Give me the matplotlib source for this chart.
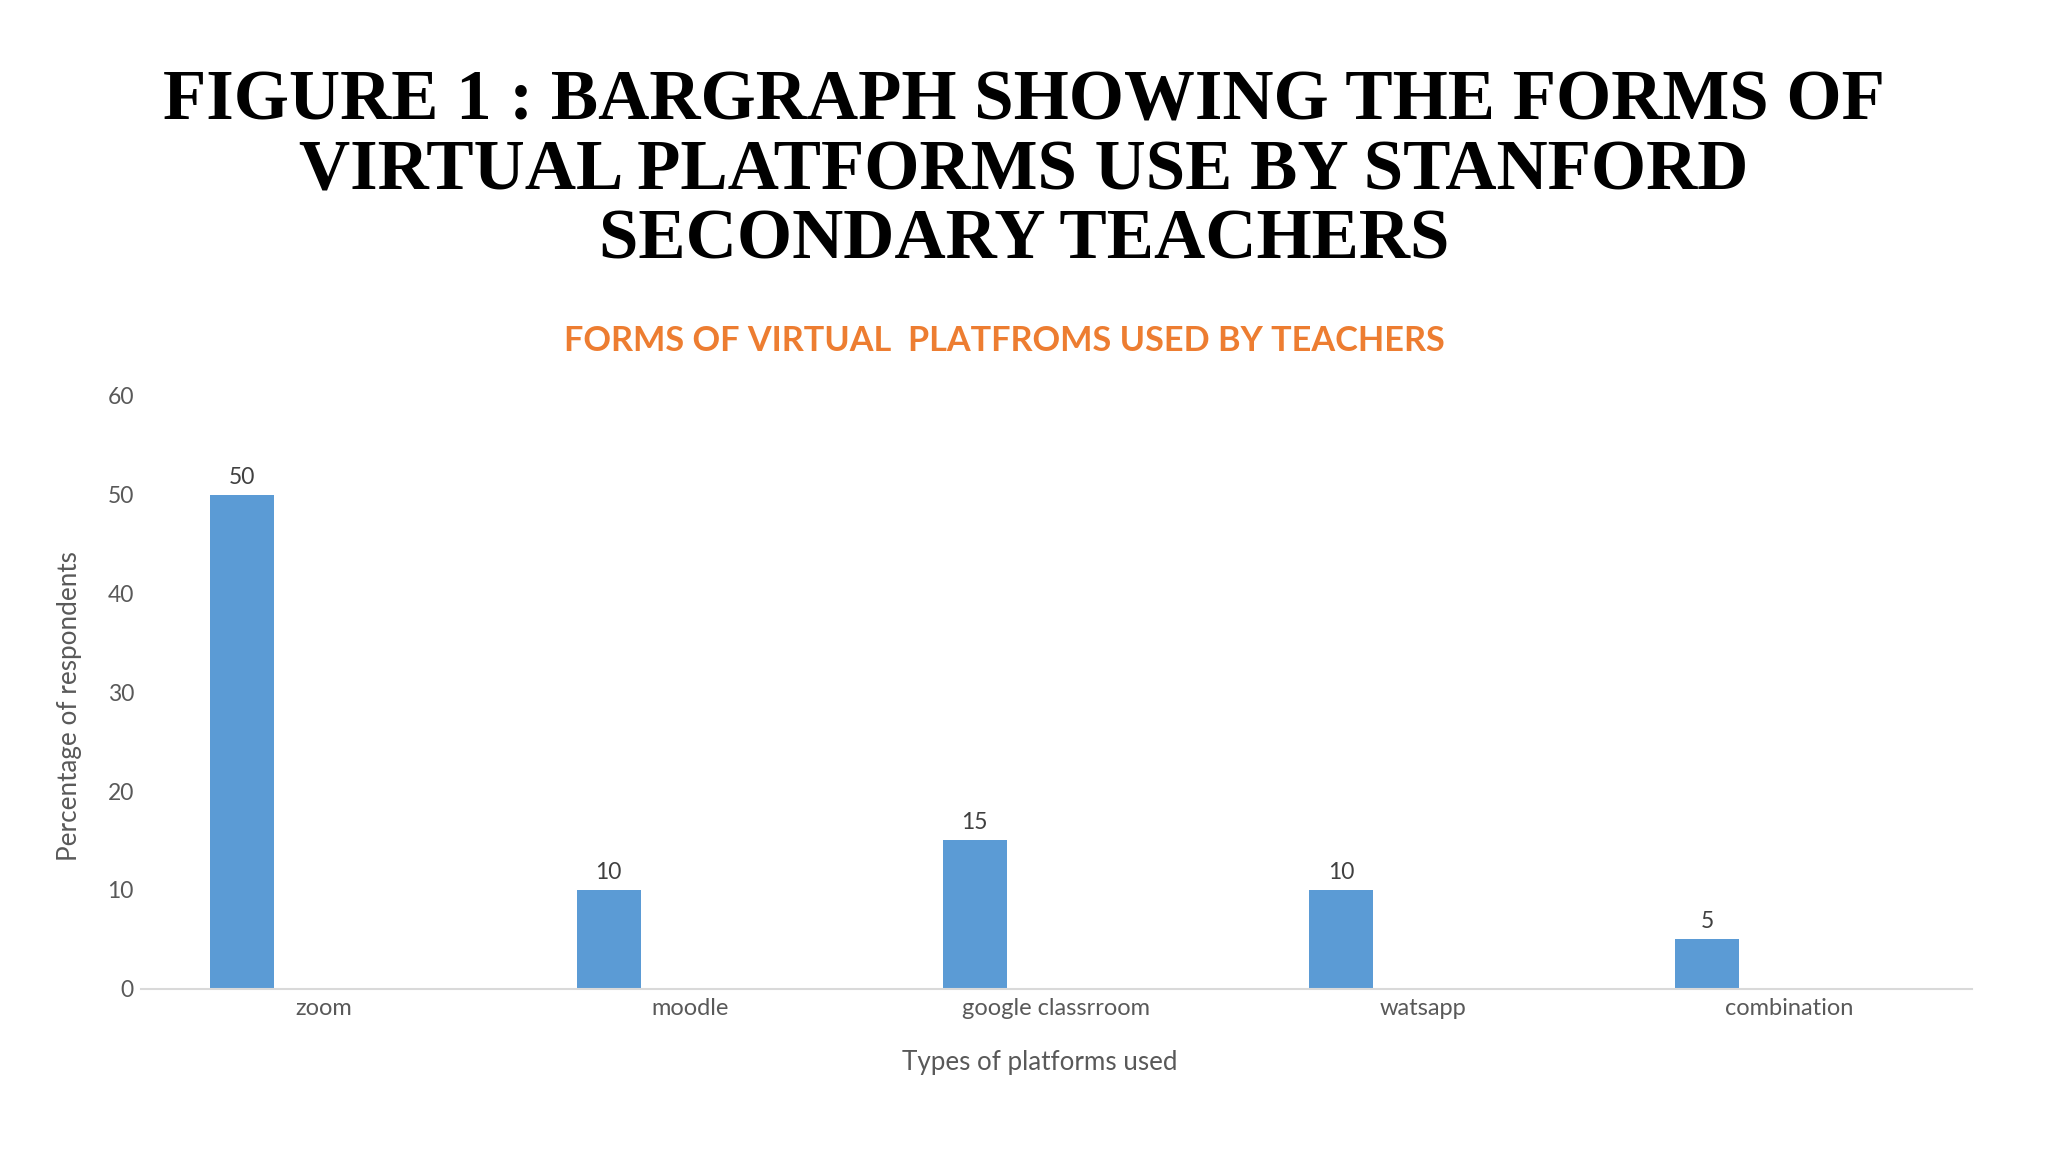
import matplotlib.pyplot as plt
import numpy as np

# Datos
platforms = ['zoom', 'moodle', 'google classrroom', 'watsapp', 'combination']
percent = [50, 10, 15, 10, 5]
y_ticks = [0, 10, 20, 30, 40, 50, 60]

title = ('FIGURE 1 : BARGRAPH SHOWING THE FORMS OF\n'
         'VIRTUAL PLATFORMS USE BY STANFORD\n'
         'SECONDARY TEACHERS')
subtitle = 'FORMS OF VIRTUAL  PLATFROMS USED BY TEACHERS'

grey = '#595959'

fig = plt.figure(figsize=(20.48, 11.52), dpi=100)
ax = fig.add_axes([0.0688, 0.1418, 0.8941, 0.5146])

x = np.arange(len(platforms))
bars = ax.bar(x - 0.223, percent, width=0.175, color='#5B9BD5')

# Etiquetas de datos
for b, v in zip(bars, percent):
    ax.annotate(str(v), (b.get_x() + b.get_width() / 2, v), xytext=(0, 5),
                textcoords='offset points', ha='center', va='bottom',
                fontsize=16.5, color='#404040', family='Lato')

ax.set_xlim(-0.5, len(platforms) - 0.5)
ax.set_ylim(0, 60)
ax.set_yticks(y_ticks)
ax.set_xticks(x)
ax.set_xticklabels(platforms)

for s in ['top', 'right', 'left']:
    ax.spines[s].set_visible(False)
ax.spines['bottom'].set_color('#D9D9D9')
ax.spines['bottom'].set_linewidth(1.5)
ax.tick_params(axis='x', length=0, labelsize=17, labelcolor=grey, pad=7)
ax.tick_params(axis='y', length=0, labelsize=16.5, labelcolor=grey, pad=5)
for lab in ax.get_xticklabels() + ax.get_yticklabels():
    lab.set_family('Lato')

ax.set_xlabel('Types of platforms used', fontsize=18.7, color=grey,
              family='Lato')
ax.set_ylabel('Percentage of respondents', fontsize=18.8, color=grey,
              family='Lato')
ax.xaxis.set_label_coords(0.491, -0.103)
ax.yaxis.set_label_coords(-0.032, 0.476)

# Titulos
fig.text(0.5, 0.851, title, ha='center', va='center', fontsize=51,
         family='Liberation Serif', fontweight='bold', linespacing=1.09)
fig.text(0.4904, 0.704, subtitle, ha='center', va='center', fontsize=24.7,
         family='Lato', fontweight='bold', color='#ED7D31')

fig.savefig('out.png', dpi=100, facecolor='white')
